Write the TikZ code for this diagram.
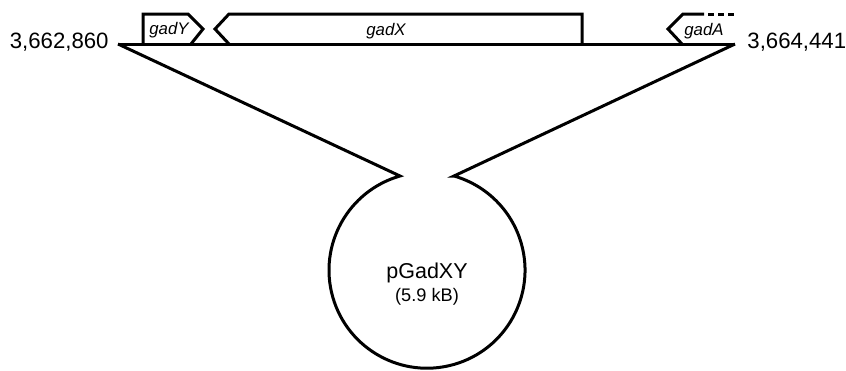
\documentclass[tikz,border=0pt]{standalone}
\usepackage{fontspec}
\setmainfont{Liberation Sans}
\usetikzlibrary{calc}
\tikzset{%
  dna/.style={line width=1.5pt,line join=miter},%
  gene/.style={font=\fontsize{8.4}{9}\selectfont\itshape,inner sep=0pt},%
  coord/.style={font=\fontsize{11.1}{12}\selectfont,inner sep=0pt}}

\begin{document}
\begin{tikzpicture}[x=0.5pt,y=-0.5pt]
    \useasboundingbox (0,0) rectangle (846,370);
    \coordinate (left) at (118,44);
    \coordinate (right) at (735,44);
    \coordinate (notchl) at (400,176);
    \coordinate (notchr) at (454,176);
    % chromosome
    \draw[dna] (left) -- (right);
    \node[coord,anchor=east] (startpos) at (109,42) {3,662,860};
    \node[coord,anchor=west] (endpos) at (747,42) {3,664,441};
    % genes
    \draw[dna] (143,44) -- (143,14) -- (188,14) -- (203,29) -- (191,44);
    \draw[dna] (229,44) -- (215,29) -- (229,14) -- (582,14) -- (582,44);
    \draw[dna] (682,44) -- (668,29) -- (683,14) -- (704,14);
    \draw[dna,dash pattern=on 3pt off 2pt] (708,14) -- (734,14);
    \node[gene] (gadY) at (169,30) {gadY};
    \node[gene] (gadX) at (386,31) {gadX};
    \node[gene] (gadA) at (704,31) {gadA};
    % plasmid
    \draw[dna] (left) -- (notchl) arc[start angle=-106,end angle=-434,radius=98]
      -- (notchr) -- (right);
    \node[font=\fontsize{10.75}{12}\selectfont,inner sep=0pt] (plasmid) at (427,273) {pGadXY};
    \node[font=\fontsize{9.1}{10}\selectfont,inner sep=0pt] (size) at (427,297) {(5.9 kB)};
  \end{tikzpicture}
\end{document}
